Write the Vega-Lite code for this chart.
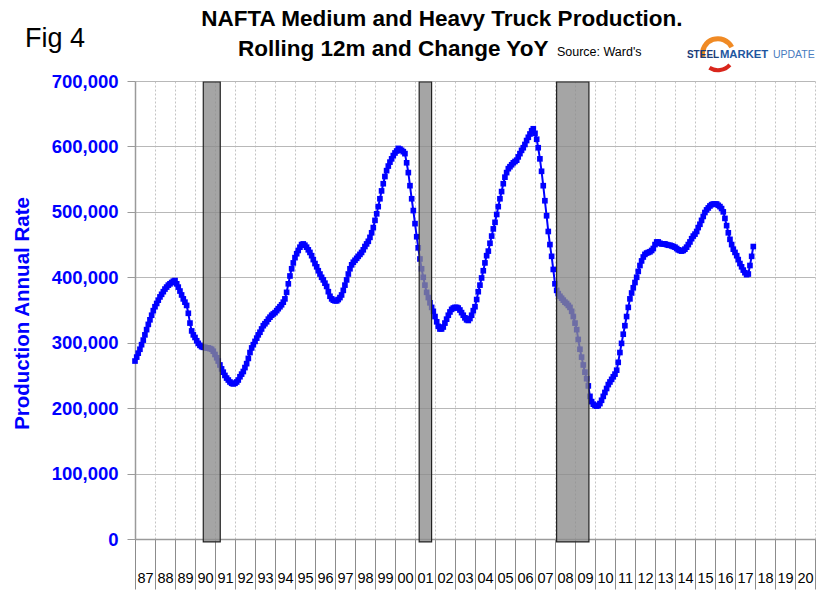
{
  "$schema": "https://vega.github.io/schema/vega-lite/v6.json",
  "width": 680,
  "height": 458,
  "autosize": "none",
  "padding": {"left": 135, "top": 81, "right": 6, "bottom": 52},
  "background": "white",
  "config": {"view": {"stroke": null}, "font": "Liberation Sans"},
  "datasets": {
    "prod": [
      {"d":"1987-01-01","v":272000},{"d":"1987-02-01","v":278000},{"d":"1987-03-01","v":284000},{"d":"1987-04-01","v":290000},{"d":"1987-05-01","v":297000},{"d":"1987-06-01","v":304000},{"d":"1987-07-01","v":312000},{"d":"1987-08-01","v":320000},{"d":"1987-09-01","v":328000},{"d":"1987-10-01","v":335000},{"d":"1987-11-01","v":342000},{"d":"1987-12-01","v":349000},
      {"d":"1988-01-01","v":355000},{"d":"1988-02-01","v":360000},{"d":"1988-03-01","v":365000},{"d":"1988-04-01","v":370000},{"d":"1988-05-01","v":374000},{"d":"1988-06-01","v":378000},{"d":"1988-07-01","v":382000},{"d":"1988-08-01","v":385000},{"d":"1988-09-01","v":388000},{"d":"1988-10-01","v":390000},{"d":"1988-11-01","v":392000},{"d":"1988-12-01","v":394000},
      {"d":"1989-01-01","v":395000},{"d":"1989-02-01","v":390000},{"d":"1989-03-01","v":385000},{"d":"1989-04-01","v":379000},{"d":"1989-05-01","v":373000},{"d":"1989-06-01","v":367000},{"d":"1989-07-01","v":362000},{"d":"1989-08-01","v":357000},{"d":"1989-09-01","v":345000},{"d":"1989-10-01","v":330000},{"d":"1989-11-01","v":318000},{"d":"1989-12-01","v":312000},
      {"d":"1990-01-01","v":308000},{"d":"1990-02-01","v":303000},{"d":"1990-03-01","v":299000},{"d":"1990-04-01","v":296000},{"d":"1990-05-01","v":294000},{"d":"1990-06-01","v":293000},{"d":"1990-07-01","v":293000},{"d":"1990-08-01","v":292000},{"d":"1990-09-01","v":292000},{"d":"1990-10-01","v":291000},{"d":"1990-11-01","v":290000},{"d":"1990-12-01","v":287000},
      {"d":"1991-01-01","v":282000},{"d":"1991-02-01","v":277000},{"d":"1991-03-01","v":272000},{"d":"1991-04-01","v":266000},{"d":"1991-05-01","v":260000},{"d":"1991-06-01","v":255000},{"d":"1991-07-01","v":250000},{"d":"1991-08-01","v":246000},{"d":"1991-09-01","v":243000},{"d":"1991-10-01","v":240000},{"d":"1991-11-01","v":238000},{"d":"1991-12-01","v":237000},
      {"d":"1992-01-01","v":238000},{"d":"1992-02-01","v":240000},{"d":"1992-03-01","v":243000},{"d":"1992-04-01","v":248000},{"d":"1992-05-01","v":252000},{"d":"1992-06-01","v":256000},{"d":"1992-07-01","v":262000},{"d":"1992-08-01","v":268000},{"d":"1992-09-01","v":276000},{"d":"1992-10-01","v":285000},{"d":"1992-11-01","v":292000},{"d":"1992-12-01","v":297000},
      {"d":"1993-01-01","v":302000},{"d":"1993-02-01","v":307000},{"d":"1993-03-01","v":312000},{"d":"1993-04-01","v":316000},{"d":"1993-05-01","v":321000},{"d":"1993-06-01","v":326000},{"d":"1993-07-01","v":329000},{"d":"1993-08-01","v":332000},{"d":"1993-09-01","v":336000},{"d":"1993-10-01","v":339000},{"d":"1993-11-01","v":342000},{"d":"1993-12-01","v":344000},
      {"d":"1994-01-01","v":346000},{"d":"1994-02-01","v":349000},{"d":"1994-03-01","v":352000},{"d":"1994-04-01","v":355000},{"d":"1994-05-01","v":358000},{"d":"1994-06-01","v":362000},{"d":"1994-07-01","v":367000},{"d":"1994-08-01","v":377000},{"d":"1994-09-01","v":390000},{"d":"1994-10-01","v":402000},{"d":"1994-11-01","v":413000},{"d":"1994-12-01","v":422000},
      {"d":"1995-01-01","v":430000},{"d":"1995-02-01","v":436000},{"d":"1995-03-01","v":441000},{"d":"1995-04-01","v":446000},{"d":"1995-05-01","v":450000},{"d":"1995-06-01","v":451000},{"d":"1995-07-01","v":449000},{"d":"1995-08-01","v":446000},{"d":"1995-09-01","v":442000},{"d":"1995-10-01","v":438000},{"d":"1995-11-01","v":433000},{"d":"1995-12-01","v":427000},
      {"d":"1996-01-01","v":421000},{"d":"1996-02-01","v":416000},{"d":"1996-03-01","v":410000},{"d":"1996-04-01","v":405000},{"d":"1996-05-01","v":400000},{"d":"1996-06-01","v":396000},{"d":"1996-07-01","v":391000},{"d":"1996-08-01","v":386000},{"d":"1996-09-01","v":378000},{"d":"1996-10-01","v":371000},{"d":"1996-11-01","v":367000},{"d":"1996-12-01","v":365000},
      {"d":"1997-01-01","v":364000},{"d":"1997-02-01","v":364000},{"d":"1997-03-01","v":366000},{"d":"1997-04-01","v":369000},{"d":"1997-05-01","v":373000},{"d":"1997-06-01","v":380000},{"d":"1997-07-01","v":388000},{"d":"1997-08-01","v":396000},{"d":"1997-09-01","v":405000},{"d":"1997-10-01","v":413000},{"d":"1997-11-01","v":419000},{"d":"1997-12-01","v":423000},
      {"d":"1998-01-01","v":426000},{"d":"1998-02-01","v":429000},{"d":"1998-03-01","v":432000},{"d":"1998-04-01","v":435000},{"d":"1998-05-01","v":438000},{"d":"1998-06-01","v":442000},{"d":"1998-07-01","v":447000},{"d":"1998-08-01","v":451000},{"d":"1998-09-01","v":455000},{"d":"1998-10-01","v":461000},{"d":"1998-11-01","v":468000},{"d":"1998-12-01","v":476000},
      {"d":"1999-01-01","v":487000},{"d":"1999-02-01","v":497000},{"d":"1999-03-01","v":508000},{"d":"1999-04-01","v":520000},{"d":"1999-05-01","v":532000},{"d":"1999-06-01","v":543000},{"d":"1999-07-01","v":554000},{"d":"1999-08-01","v":563000},{"d":"1999-09-01","v":570000},{"d":"1999-10-01","v":576000},{"d":"1999-11-01","v":581000},{"d":"1999-12-01","v":586000},
      {"d":"2000-01-01","v":590000},{"d":"2000-02-01","v":593000},{"d":"2000-03-01","v":597000},{"d":"2000-04-01","v":596000},{"d":"2000-05-01","v":594000},{"d":"2000-06-01","v":592000},{"d":"2000-07-01","v":589000},{"d":"2000-08-01","v":575000},{"d":"2000-09-01","v":560000},{"d":"2000-10-01","v":540000},{"d":"2000-11-01","v":520000},{"d":"2000-12-01","v":502000},
      {"d":"2001-01-01","v":482000},{"d":"2001-02-01","v":462000},{"d":"2001-03-01","v":445000},{"d":"2001-04-01","v":428000},{"d":"2001-05-01","v":413000},{"d":"2001-06-01","v":400000},{"d":"2001-07-01","v":388000},{"d":"2001-08-01","v":377000},{"d":"2001-09-01","v":369000},{"d":"2001-10-01","v":361000},{"d":"2001-11-01","v":354000},{"d":"2001-12-01","v":348000},
      {"d":"2002-01-01","v":340000},{"d":"2002-02-01","v":332000},{"d":"2002-03-01","v":325000},{"d":"2002-04-01","v":321000},{"d":"2002-05-01","v":321000},{"d":"2002-06-01","v":324000},{"d":"2002-07-01","v":330000},{"d":"2002-08-01","v":336000},{"d":"2002-09-01","v":342000},{"d":"2002-10-01","v":347000},{"d":"2002-11-01","v":351000},{"d":"2002-12-01","v":353000},
      {"d":"2003-01-01","v":354000},{"d":"2003-02-01","v":354000},{"d":"2003-03-01","v":353000},{"d":"2003-04-01","v":350000},{"d":"2003-05-01","v":346000},{"d":"2003-06-01","v":342000},{"d":"2003-07-01","v":338000},{"d":"2003-08-01","v":335000},{"d":"2003-09-01","v":334000},{"d":"2003-10-01","v":337000},{"d":"2003-11-01","v":342000},{"d":"2003-12-01","v":349000},
      {"d":"2004-01-01","v":355000},{"d":"2004-02-01","v":366000},{"d":"2004-03-01","v":378000},{"d":"2004-04-01","v":388000},{"d":"2004-05-01","v":399000},{"d":"2004-06-01","v":410000},{"d":"2004-07-01","v":422000},{"d":"2004-08-01","v":433000},{"d":"2004-09-01","v":440000},{"d":"2004-10-01","v":452000},{"d":"2004-11-01","v":463000},{"d":"2004-12-01","v":474000},
      {"d":"2005-01-01","v":484000},{"d":"2005-02-01","v":496000},{"d":"2005-03-01","v":508000},{"d":"2005-04-01","v":520000},{"d":"2005-05-01","v":531000},{"d":"2005-06-01","v":543000},{"d":"2005-07-01","v":553000},{"d":"2005-08-01","v":560000},{"d":"2005-09-01","v":566000},{"d":"2005-10-01","v":569000},{"d":"2005-11-01","v":572000},{"d":"2005-12-01","v":575000},
      {"d":"2006-01-01","v":577000},{"d":"2006-02-01","v":579000},{"d":"2006-03-01","v":584000},{"d":"2006-04-01","v":589000},{"d":"2006-05-01","v":594000},{"d":"2006-06-01","v":598000},{"d":"2006-07-01","v":603000},{"d":"2006-08-01","v":609000},{"d":"2006-09-01","v":614000},{"d":"2006-10-01","v":619000},{"d":"2006-11-01","v":624000},{"d":"2006-12-01","v":627000},
      {"d":"2007-01-01","v":620000},{"d":"2007-02-01","v":611000},{"d":"2007-03-01","v":598000},{"d":"2007-04-01","v":581000},{"d":"2007-05-01","v":562000},{"d":"2007-06-01","v":540000},{"d":"2007-07-01","v":517000},{"d":"2007-08-01","v":494000},{"d":"2007-09-01","v":470000},{"d":"2007-10-01","v":450000},{"d":"2007-11-01","v":432000},{"d":"2007-12-01","v":412000},
      {"d":"2008-01-01","v":390000},{"d":"2008-02-01","v":380000},{"d":"2008-03-01","v":375000},{"d":"2008-04-01","v":371000},{"d":"2008-05-01","v":368000},{"d":"2008-06-01","v":365000},{"d":"2008-07-01","v":362000},{"d":"2008-08-01","v":360000},{"d":"2008-09-01","v":357000},{"d":"2008-10-01","v":354000},{"d":"2008-11-01","v":348000},{"d":"2008-12-01","v":340000},
      {"d":"2009-01-01","v":330000},{"d":"2009-02-01","v":320000},{"d":"2009-03-01","v":305000},{"d":"2009-04-01","v":290000},{"d":"2009-05-01","v":278000},{"d":"2009-06-01","v":266000},{"d":"2009-07-01","v":255000},{"d":"2009-08-01","v":245000},{"d":"2009-09-01","v":234000},{"d":"2009-10-01","v":218000},{"d":"2009-11-01","v":210000},{"d":"2009-12-01","v":206000},
      {"d":"2010-01-01","v":204000},{"d":"2010-02-01","v":203000},{"d":"2010-03-01","v":204000},{"d":"2010-04-01","v":207000},{"d":"2010-05-01","v":212000},{"d":"2010-06-01","v":218000},{"d":"2010-07-01","v":224000},{"d":"2010-08-01","v":230000},{"d":"2010-09-01","v":236000},{"d":"2010-10-01","v":240000},{"d":"2010-11-01","v":244000},{"d":"2010-12-01","v":248000},
      {"d":"2011-01-01","v":252000},{"d":"2011-02-01","v":258000},{"d":"2011-03-01","v":270000},{"d":"2011-04-01","v":285000},{"d":"2011-05-01","v":299000},{"d":"2011-06-01","v":313000},{"d":"2011-07-01","v":326000},{"d":"2011-08-01","v":340000},{"d":"2011-09-01","v":354000},{"d":"2011-10-01","v":367000},{"d":"2011-11-01","v":376000},{"d":"2011-12-01","v":384000},
      {"d":"2012-01-01","v":392000},{"d":"2012-02-01","v":400000},{"d":"2012-03-01","v":409000},{"d":"2012-04-01","v":418000},{"d":"2012-05-01","v":425000},{"d":"2012-06-01","v":431000},{"d":"2012-07-01","v":435000},{"d":"2012-08-01","v":437000},{"d":"2012-09-01","v":438000},{"d":"2012-10-01","v":439000},{"d":"2012-11-01","v":441000},{"d":"2012-12-01","v":444000},
      {"d":"2013-01-01","v":450000},{"d":"2013-02-01","v":454000},{"d":"2013-03-01","v":454000},{"d":"2013-04-01","v":452000},{"d":"2013-05-01","v":451000},{"d":"2013-06-01","v":451000},{"d":"2013-07-01","v":451000},{"d":"2013-08-01","v":450000},{"d":"2013-09-01","v":449000},{"d":"2013-10-01","v":449000},{"d":"2013-11-01","v":448000},{"d":"2013-12-01","v":447000},
      {"d":"2014-01-01","v":446000},{"d":"2014-02-01","v":444000},{"d":"2014-03-01","v":442000},{"d":"2014-04-01","v":441000},{"d":"2014-05-01","v":440000},{"d":"2014-06-01","v":441000},{"d":"2014-07-01","v":443000},{"d":"2014-08-01","v":446000},{"d":"2014-09-01","v":450000},{"d":"2014-10-01","v":454000},{"d":"2014-11-01","v":459000},{"d":"2014-12-01","v":463000},
      {"d":"2015-01-01","v":466000},{"d":"2015-02-01","v":470000},{"d":"2015-03-01","v":476000},{"d":"2015-04-01","v":481000},{"d":"2015-05-01","v":487000},{"d":"2015-06-01","v":493000},{"d":"2015-07-01","v":499000},{"d":"2015-08-01","v":503000},{"d":"2015-09-01","v":506000},{"d":"2015-10-01","v":509000},{"d":"2015-11-01","v":511000},{"d":"2015-12-01","v":512000},
      {"d":"2016-01-01","v":512000},{"d":"2016-02-01","v":512000},{"d":"2016-03-01","v":510000},{"d":"2016-04-01","v":508000},{"d":"2016-05-01","v":505000},{"d":"2016-06-01","v":500000},{"d":"2016-07-01","v":490000},{"d":"2016-08-01","v":479000},{"d":"2016-09-01","v":468000},{"d":"2016-10-01","v":458000},{"d":"2016-11-01","v":450000},{"d":"2016-12-01","v":443000},
      {"d":"2017-01-01","v":438000},{"d":"2017-02-01","v":433000},{"d":"2017-03-01","v":427000},{"d":"2017-04-01","v":421000},{"d":"2017-05-01","v":416000},{"d":"2017-06-01","v":411000},{"d":"2017-07-01","v":407000},{"d":"2017-08-01","v":404000},{"d":"2017-09-01","v":405000},{"d":"2017-10-01","v":418000},{"d":"2017-11-01","v":432000},{"d":"2017-12-01","v":447000}
    ],
    "recessions": [
      {"start":"1990-06-01","end":"1991-04-07"},
      {"start":"2001-03-18","end":"2001-10-31"},
      {"start":"2008-01-31","end":"2009-09-12"}
    ]
  },
  "layer": [
    {
      "data": {"name": "prod"},
      "mark": {"type": "line", "color": "#0000ff", "strokeWidth": 2, "point": {"shape": "square", "size": 32, "filled": true, "color": "#0000ff", "opacity": 1}},
      "encoding": {
        "x": {
          "field": "d", "type": "temporal",
          "scale": {"type": "utc", "domain": ["1987-01-01", "2021-01-01"], "nice": false},
          "axis": {
            "title": null,
            "tickCount": {"interval": "year", "step": 1},
            "labelExpr": "utcyear(datum.value) >= 2021 ? '' : utcFormat(datum.value, '%y')",
            "labelFlush": false, "labelOverlap": false, "labelBound": false,
            "labelOffset": 10, "labelPadding": -18, "labelFontSize": 14.5, "labelColor": "#000000", "labelFont": "Liberation Sans", "labelBaseline": "top",
            "tickSize": 50, "tickColor": "#8c8c8c", "tickWidth": 1,
            "domainColor": "#9a9a9a", "domainWidth": 1.5,
            "grid": true, "gridColor": "#c4c4c4", "gridDash": [2, 2], "gridWidth": 1
          }
        },
        "y": {
          "field": "v", "type": "quantitative",
          "scale": {"domain": [0, 700000], "nice": false, "zero": true},
          "axis": {
            "values": [0, 100000, 200000, 300000, 400000, 500000, 600000, 700000],
            "format": ",d",
            "labelColor": "#0000ff", "labelFont": "Liberation Sans", "labelFontSize": 18.5, "labelFontWeight": "bold", "labelPadding": 9,
            "tickSize": 8, "tickColor": "#9a9a9a", "domainColor": "#9a9a9a", "domainWidth": 1.5,
            "grid": true, "gridColor": "#b8b8b8", "gridWidth": 1,
            "title": "Production Annual Rate",
            "titleColor": "#0000ff", "titleFont": "Liberation Sans", "titleFontSize": 20.5, "titleFontWeight": "bold",
            "titleAngle": 270, "titleAlign": "center", "titleBaseline": "middle", "titleX": -113, "titleY": 232
          }
        }
      }
    },
    {
      "data": {"name": "recessions"},
      "mark": {"type": "rect", "fill": "#8c8c8c", "fillOpacity": 0.78, "stroke": "#222222", "strokeWidth": 1.2},
      "encoding": {
        "x": {"field": "start", "type": "temporal"},
        "x2": {"field": "end"},
        "y": {"datum": -4500, "type": "quantitative"},
        "y2": {"datum": 698500}
      }
    },
    {
      "data": {"values": [{"label": "NAFTA Medium and Heavy Truck Production.", "d": "2002-05-08", "v": 784000}]},
      "mark": {"type": "text", "align": "center", "baseline": "alphabetic", "font": "Liberation Sans", "fontSize": 22.5, "fontWeight": "bold", "color": "#000000"},
      "encoding": {"x": {"field": "d", "type": "temporal"}, "y": {"field": "v", "type": "quantitative"}, "text": {"field": "label"}}
    },
    {
      "data": {"values": [{"label": "Rolling 12m and Change YoY", "d": "1992-02-25", "v": 738000}]},
      "mark": {"type": "text", "align": "left", "baseline": "alphabetic", "font": "Liberation Sans", "fontSize": 22.5, "fontWeight": "bold", "color": "#000000"},
      "encoding": {"x": {"field": "d", "type": "temporal"}, "y": {"field": "v", "type": "quantitative"}, "text": {"field": "label"}}
    },
    {
      "data": {"values": [{"label": "Source: Ward's", "d": "2008-02-06", "v": 738000}]},
      "mark": {"type": "text", "align": "left", "baseline": "alphabetic", "font": "Liberation Sans", "fontSize": 12.5, "color": "#000000"},
      "encoding": {"x": {"field": "d", "type": "temporal"}, "y": {"field": "v", "type": "quantitative"}, "text": {"field": "label"}}
    },
    {
      "data": {"values": [{"label": "Fig 4", "d": "1981-07-01", "v": 752000}]},
      "mark": {"type": "text", "align": "left", "baseline": "alphabetic", "font": "Liberation Sans", "fontSize": 27, "color": "#000000"},
      "encoding": {"x": {"field": "d", "type": "temporal"}, "y": {"field": "v", "type": "quantitative"}, "text": {"field": "label"}}
    },
    {
      "data": {"values": [{"d": "2016-02-24", "v": 741000}]},
      "mark": {"type": "arc", "theta": -1.75, "theta2": 1.1, "radius": 18, "radius2": 13, "color": "#f08a24"},
      "encoding": {"x": {"field": "d", "type": "temporal"}, "y": {"field": "v", "type": "quantitative"}}
    },
    {
      "data": {"values": [{"d": "2016-02-24", "v": 741000}]},
      "mark": {"type": "arc", "theta": 2.3, "theta2": 3.7, "radius": 18, "radius2": 14, "color": "#d9261c"},
      "encoding": {"x": {"field": "d", "type": "temporal"}, "y": {"field": "v", "type": "quantitative"}}
    },
    {
      "data": {"values": [{"label": "STEEL", "d": "2014-08-07", "v": 735500}]},
      "mark": {"type": "text", "align": "left", "baseline": "alphabetic", "font": "Liberation Sans", "fontSize": 10, "fontWeight": "bold", "color": "#1b3c78"},
      "encoding": {"x": {"field": "d", "type": "temporal"}, "y": {"field": "v", "type": "quantitative"}, "text": {"field": "label"}}
    },
    {
      "data": {"values": [{"label": "MARKET", "d": "2016-04-01", "v": 735500}]},
      "mark": {"type": "text", "align": "left", "baseline": "alphabetic", "font": "Liberation Sans", "fontSize": 11.3, "fontWeight": "bold", "color": "#1e56a0"},
      "encoding": {"x": {"field": "d", "type": "temporal"}, "y": {"field": "v", "type": "quantitative"}, "text": {"field": "label"}}
    },
    {
      "data": {"values": [{"label": "UPDATE", "d": "2018-11-24", "v": 735500}]},
      "mark": {"type": "text", "align": "left", "baseline": "alphabetic", "font": "Liberation Sans", "fontSize": 10.5, "color": "#4a7cc0"},
      "encoding": {"x": {"field": "d", "type": "temporal"}, "y": {"field": "v", "type": "quantitative"}, "text": {"field": "label"}}
    }
  ]
}
